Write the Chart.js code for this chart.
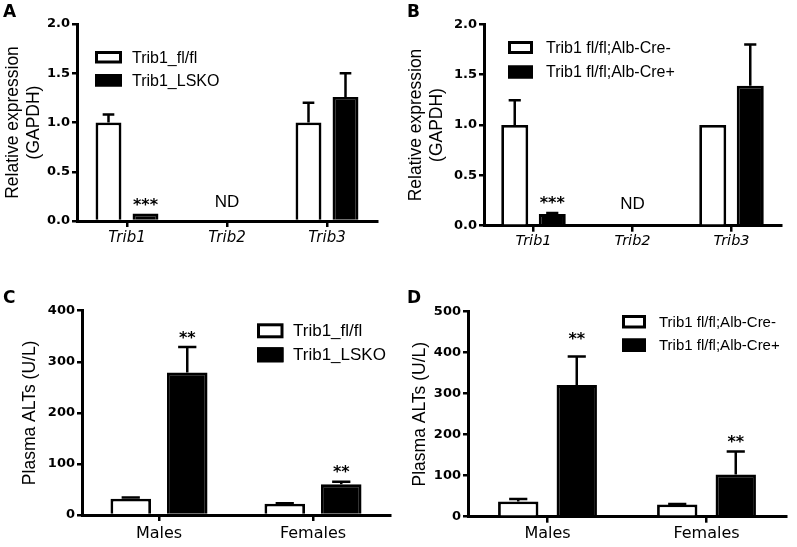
<!DOCTYPE html>
<html><head><meta charset="utf-8">
<title>Trib1 expression and plasma ALT</title>
<script src="https://cdn.jsdelivr.net/npm/chart.js@4.4.1/dist/chart.umd.min.js"></script>
<style>
html,body{margin:0;padding:0;background:#fff;overflow:hidden;}
#wrap{position:relative;width:797px;height:547px;background:#fff;}
#wrap canvas{position:absolute;left:0;top:0;}
</style></head>
<body><div id="wrap">
<canvas id="panelA" width="797" height="547"></canvas>
<canvas id="panelB" width="797" height="547"></canvas>
<canvas id="panelC" width="797" height="547"></canvas>
<canvas id="panelD" width="797" height="547"></canvas>
</div>
<script>
// ---------------- data ----------------
const geneCategories = ['Trib1', 'Trib2', 'Trib3'];
const sexCategories = ['Males', 'Females'];

const seriesNamesLSKO = ['Trib1_fl/fl', 'Trib1_LSKO'];
const seriesNamesAlb = ['Trib1 fl/fl;Alb-Cre-', 'Trib1 fl/fl;Alb-Cre+'];

const exprTickLabels = ['0.0', '0.5', '1.0', '1.5', '2.0'];
const altTickLabelsC = ['0', '100', '200', '300', '400'];
const altTickLabelsD = ['0', '100', '200', '300', '400', '500'];

const exprTitle = ['Relative expression', '(GAPDH)'];
const altTitle = 'Plasma ALTs (U/L)';

// Panel A (Trib2 not detected)
const aFlox = [1.0, null, 1.0];
const aFloxErr = [0.08, null, 0.2];
const aKO = [0.075, null, 1.26];
const aKOErr = [0.0, null, 0.24];
// Panel B
const bCreNeg = [1.0, null, 1.0];
const bCreNegErr = [0.245, null, 0.0];
const bCrePos = [0.115, null, 1.39];
const bCrePosErr = [0.012, null, 0.41];
// Panel C
const cFlox = [32, 22];
const cFloxErr = [2.5, 1];
const cKO = [279, 60];
const cKOErr = [50, 5];
// Panel D
const dCreNeg = [37, 30];
const dCreNegErr = [6, 1];
const dCrePos = [321, 103];
const dCrePosErr = [70, 56];

// significance marks: [series index (null = category centre), category index, text, axis value of text centre]
const aMarks = [[1, 0, '***', 0.193], [null, 1, 'ND', 0.203]];
const bMarks = [[1, 0, '***', 0.256], [null, 1, 'ND', 0.226]];
const cMarks = [[1, 0, '**', 352], [1, 1, '**', 90]];
const dMarks = [[1, 0, '**', 441], [1, 1, '**', 190]];

// ---------------- plugins ----------------
const SANS = "'Liberation Sans', Arial, Helvetica, sans-serif";
const DEJA = "'DejaVu Sans', sans-serif";

const errorBarsPlugin = {
  id: 'errorBars',
  afterDatasetsDraw(chart, args, opts) {
    const ctx = chart.ctx, ys = chart.scales.y;
    chart.data.datasets.forEach((ds, di) => {
      const meta = chart.getDatasetMeta(di);
      meta.data.forEach((bar, i) => {
        const v = ds.data[i], e = ds.errors ? ds.errors[i] : null;
        if (v == null || e == null || e <= 0) return;
        const base = ys.getPixelForValue(v);
        const top = ys.getPixelForValue(v + e);
        const half = bar.width * opts.capRatio / 2;
        ctx.save();
        ctx.strokeStyle = '#000';
        ctx.lineWidth = opts.lineWidth;
        ctx.beginPath();
        ctx.moveTo(bar.x, base);
        ctx.lineTo(bar.x, top);
        ctx.moveTo(bar.x - half, top);
        ctx.lineTo(bar.x + half, top);
        ctx.stroke();
        ctx.restore();
      });
    });
  }
};

const notesPlugin = {
  id: 'notes',
  afterDraw(chart, args, opts) {
    const ctx = chart.ctx, xs = chart.scales.x, ys = chart.scales.y;
    (opts.items || []).forEach(([series, idx, text, at]) => {
      let x;
      if (series === null) x = xs.getPixelForValue(idx);
      else x = chart.getDatasetMeta(series).data[idx].x;
      const y = ys.getPixelForValue(at);
      ctx.save();
      ctx.fillStyle = '#000';
      ctx.font = text === 'ND' ? opts.ndFont : opts.starFont;
      ctx.textAlign = 'center';
      ctx.textBaseline = 'alphabetic';
      const m = ctx.measureText(text);
      ctx.fillText(text, x, y + (m.actualBoundingBoxAscent - m.actualBoundingBoxDescent) / 2);
      ctx.restore();
    });
    if (opts.letter) {
      ctx.save();
      ctx.fillStyle = '#000';
      ctx.font = opts.letterFont;
      ctx.textAlign = 'left';
      ctx.textBaseline = 'alphabetic';
      ctx.fillText(opts.letter, opts.letterX, opts.letterY);
      ctx.restore();
    }
  }
};

const keyPlugin = {
  id: 'key',
  afterDraw(chart, args, opts) {
    const ctx = chart.ctx;
    chart.data.datasets.forEach((ds, i) => {
      const top = opts.y + i * opts.dy;
      ctx.save();
      ctx.fillStyle = ds.backgroundColor;
      ctx.fillRect(opts.x, top, opts.w, opts.h);
      ctx.strokeStyle = ds.borderColor;
      ctx.lineWidth = opts.lineWidth;
      const lw = opts.lineWidth / 2;
      ctx.strokeRect(opts.x + lw, top + lw, opts.w - 2 * lw, opts.h - 2 * lw);
      ctx.fillStyle = '#000';
      ctx.font = opts.font;
      ctx.textAlign = 'left';
      ctx.textBaseline = 'middle';
      ctx.fillText(ds.label, opts.textX, top + opts.h / 2 + 1);
      ctx.restore();
    });
  }
};

// ---------------- builder ----------------
const W = 797, H = 547, X_AXIS_H = 30;

function buildPanel(canvasId, p) {
  return new Chart(document.getElementById(canvasId), {
    type: 'bar',
    data: {
      labels: p.categories,
      datasets: [
        { label: p.names[0], data: p.control, errors: p.controlErr,
          backgroundColor: '#ffffff', borderColor: '#000000', borderWidth: 2.8, borderSkipped: 'bottom' },
        { label: p.names[1], data: p.treated, errors: p.treatedErr,
          backgroundColor: '#000000', borderColor: '#000000', borderWidth: 2.8, borderSkipped: 'bottom' }
      ]
    },
    options: {
      responsive: false,
      animation: false,
      events: [],
      datasets: { bar: { categoryPercentage: p.catPct, barPercentage: p.barPct } },
      layout: { padding: {
        left: p.padLeft,
        top: p.area.top,
        right: W - p.area.right,
        bottom: H - p.area.bottom - X_AXIS_H
      } },
      scales: {
        x: {
          type: 'category',
          offset: true,
          afterFit: s => { s.height = X_AXIS_H; },
          grid: { display: true, offset: false, drawOnChartArea: false, drawTicks: true,
                  tickLength: 6, tickWidth: 2.5, tickColor: '#000', color: '#000', lineWidth: 2.5 },
          border: { display: true, color: '#000', width: 3 },
          ticks: { color: '#000', padding: p.xPad, maxRotation: 0, autoSkip: false,
                   font: { family: DEJA, size: p.xSize, style: p.xStyle } }
        },
        y: {
          type: 'linear',
          min: 0,
          max: p.yMax,
          afterFit: s => { s.width = p.area.left - p.padLeft; },
          grid: { display: true, drawOnChartArea: false, drawTicks: true,
                  tickLength: 5, tickWidth: 2.5, tickColor: '#000', color: '#000', lineWidth: 2.5 },
          border: { display: true, color: '#000', width: 3 },
          ticks: { stepSize: p.yStep, color: '#000', padding: 2,
                   font: { family: DEJA, size: 13, weight: 'bold' },
                   callback: (v, i) => p.yLabels[i] },
          title: { display: true, text: p.yTitle, color: '#000',
                   font: { family: SANS, size: 17.5, lineHeight: 1.2 },
                   padding: { top: p.titlePad, bottom: 0 } }
        }
      },
      plugins: {
        legend: { display: false },
        tooltip: { enabled: false },
        errorBars: { capRatio: 0.45, lineWidth: 2.5 },
        notes: { items: p.marks, starFont: 'bold 16px ' + DEJA, ndFont: '17px ' + SANS,
                 letter: p.letter, letterX: p.letterPos[0], letterY: p.letterPos[1],
                 letterFont: 'bold 17px ' + DEJA },
        key: Object.assign({ lineWidth: 3 }, p.key)
      }
    },
    plugins: [errorBarsPlugin, notesPlugin, keyPlugin]
  });
}

buildPanel('panelA', {
  categories: geneCategories, names: seriesNamesLSKO,
  control: aFlox, controlErr: aFloxErr, treated: aKO, treatedErr: aKOErr,
  yMax: 2, yStep: 0.5, yLabels: exprTickLabels, yTitle: exprTitle, titlePad: 2.5,
  area: { left: 77, top: 24, right: 377, bottom: 221 }, padLeft: 0,
  catPct: 0.74, barPct: 0.70, xPad: 2.5, xSize: 15, xStyle: 'italic',
  marks: aMarks, letter: 'A', letterPos: [3, 17],
  key: { x: 95, y: 51, dy: 23, w: 27, h: 12.5, textX: 132, font: '16px ' + SANS }
});

buildPanel('panelB', {
  categories: geneCategories, names: seriesNamesAlb,
  control: bCreNeg, controlErr: bCreNegErr, treated: bCrePos, treatedErr: bCrePosErr,
  yMax: 2, yStep: 0.5, yLabels: exprTickLabels, yTitle: exprTitle, titlePad: 6,
  area: { left: 484, top: 24.3, right: 781, bottom: 225.7 }, padLeft: 400,
  catPct: 0.758, barPct: 0.72, xPad: 1, xSize: 14.5, xStyle: 'italic',
  marks: bMarks, letter: 'B', letterPos: [407, 17],
  key: { x: 508, y: 41, dy: 24.5, w: 25, h: 13, textX: 546, font: '16px ' + SANS }
});

buildPanel('panelC', {
  categories: sexCategories, names: seriesNamesLSKO,
  control: cFlox, controlErr: cFloxErr, treated: cKO, treatedErr: cKOErr,
  yMax: 400, yStep: 100, yLabels: altTickLabelsC, yTitle: altTitle, titlePad: 19.5,
  area: { left: 82, top: 310.7, right: 390, bottom: 515 }, padLeft: 0,
  catPct: 0.734, barPct: 0.717, xPad: 2.9, xSize: 16, xStyle: 'normal',
  marks: cMarks, letter: 'C', letterPos: [3, 303.3],
  key: { x: 257, y: 323.3, dy: 24, w: 26.5, h: 15, textX: 293, font: '17px ' + SANS }
});

buildPanel('panelD', {
  categories: sexCategories, names: seriesNamesAlb,
  control: dCreNeg, controlErr: dCreNegErr, treated: dCrePos, treatedErr: dCrePosErr,
  yMax: 500, yStep: 100, yLabels: altTickLabelsD, yTitle: altTitle, titlePad: 9.5,
  area: { left: 468, top: 311.7, right: 786, bottom: 516.7 }, padLeft: 400,
  catPct: 0.736, barPct: 0.69, xPad: 1.2, xSize: 16, xStyle: 'normal',
  marks: dMarks, letter: 'D', letterPos: [407, 303.3],
  key: { x: 622, y: 315, dy: 23.5, w: 24, h: 13.5, textX: 659, font: '15px ' + SANS }
});
</script>
</body></html>
